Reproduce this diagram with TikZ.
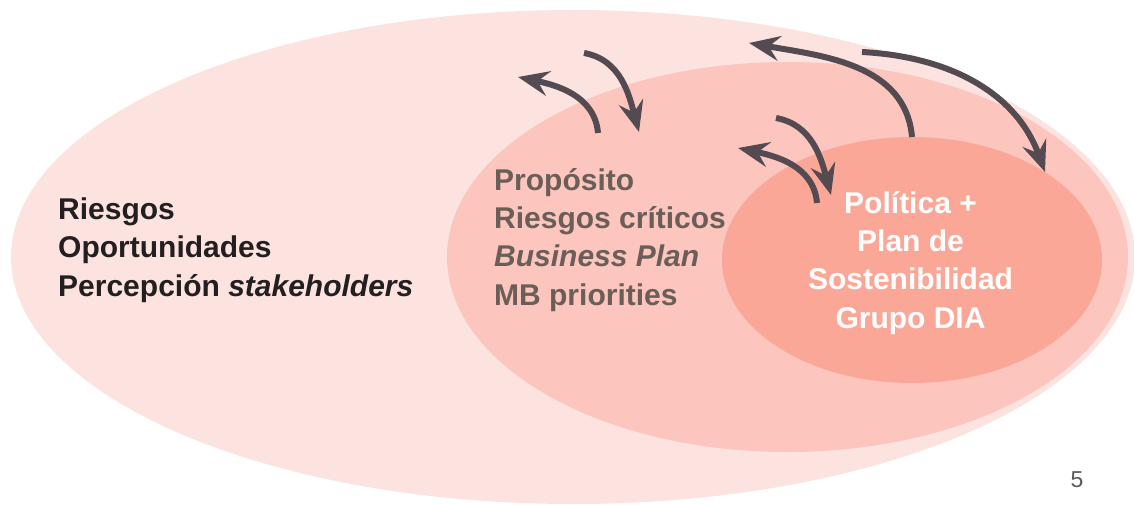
\documentclass[tikz,border=0pt]{standalone}
\usepackage{fontspec}
\setmainfont{Liberation Sans}
\usetikzlibrary{arrows.meta}
\definecolor{pinkA}{HTML}{FDE3E0}
\definecolor{pinkB}{HTML}{FCC6BE}
\definecolor{pinkC}{HTML}{FBA797}
\definecolor{arrowcol}{HTML}{544B52}
\definecolor{midtext}{HTML}{6B5E58}
\definecolor{darktext}{HTML}{231F20}
\definecolor{numcol}{HTML}{595959}
\begin{document}
\begin{tikzpicture}[x=1pt,y=1pt,
  curvearrow/.style={draw=arrowcol, line width=6pt, -{Stealth[length=31pt,width=25pt,inset=11pt]}},
  txtblock/.style={font=\fontsize{30}{38.3}\selectfont\bfseries, align=left, inner sep=0pt, anchor=base west},
  txtcenter/.style={font=\fontsize{30}{38.3}\selectfont\bfseries, align=center, inner sep=0pt, anchor=base},
]
\useasboundingbox (0,-505) rectangle (1134,0);
\fill[white] (0,-505) rectangle (1134,0);
% ellipses
\fill[pinkA] (573,-257) ellipse [x radius=562, y radius=247];
\fill[pinkB] (787.5,-257) ellipse [x radius=340.5, y radius=195];
\fill[pinkC] (912,-260) ellipse [x radius=190, y radius=123];
% arrow ends
\coordinate (a1s) at (598,-133); \coordinate (a1e) at (518,-77);
\coordinate (a2s) at (584,-53);  \coordinate (a2e) at (639,-132);
\coordinate (a3s) at (817,-203); \coordinate (a3e) at (738,-148);
\coordinate (a4s) at (776,-118); \coordinate (a4e) at (831,-195);
\coordinate (a5s) at (912,-137); \coordinate (a5e) at (749,-43);
\coordinate (a6s) at (862,-52);  \coordinate (a6e) at (1045,-172);
% arrows
\draw[curvearrow] (a1s) to[out=95,in=-12] (a1e);
\draw[curvearrow] (a2s) to[out=-10,in=105] (a2e);
\draw[curvearrow] (a3s) to[out=95,in=-12] (a3e);
\draw[curvearrow] (a4s) to[out=-10,in=105] (a4e);
\draw[curvearrow] (a5s) to[out=95,in=-10] (a5e);
\draw[curvearrow] (a6s) to[out=-3,in=110] (a6e);
% texts (base anchor = baseline of last line)
\node[txtblock, text=darktext] (outer) at (58,-296) {Riesgos\\Oportunidades\\Percepción \textit{stakeholders}};
\node[txtblock, text=midtext] (mid) at (494,-305) {Propósito\\Riesgos críticos\\\textit{Business Plan}\\MB priorities};
\node[txtcenter, text=white] (inner) at (910.5,-328) {Política +\\Plan de\\Sostenibilidad\\Grupo DIA};
\node[text=numcol, font=\fontsize{23}{26}\selectfont, anchor=base, inner sep=0pt] (num) at (1077,-487) {5};
\end{tikzpicture}
\end{document}
